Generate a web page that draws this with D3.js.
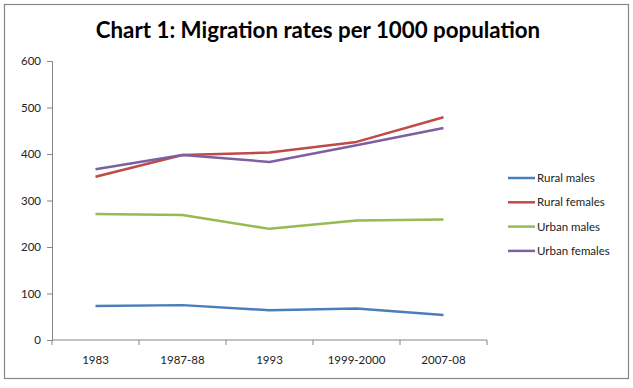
<!DOCTYPE html>
<html>
<head>
<meta charset="utf-8">
<script src="https://cdn.jsdelivr.net/npm/d3@7"></script>
<style>
  body { margin: 0; background: #fff; }
  text { font-family: Lato, "Open Sans", sans-serif; }
</style>
</head>
<body>
<div id="chart"></div>
<script>
// data
var categories = ["1983", "1987-88", "1993", "1999-2000", "2007-08"];
var ruralMales = [73, 75, 64, 68, 54];
var ruralFemales = [351, 398, 403, 426, 479];
var urbanMales = [271, 269, 239, 257, 259];
var urbanFemales = [367, 398, 383, 419, 456];
var seriesNames = ["Rural males", "Rural females", "Urban males", "Urban females"];
var colors = ["#4a7ebb", "#be4b48", "#98b954", "#7d60a0"];
var yTicks = [0, 100, 200, 300, 400, 500, 600];

var series = [ruralMales, ruralFemales, urbanMales, urbanFemales];

var W = 633, H = 388;
var svg = d3.select("#chart").append("svg")
    .attr("width", W)
    .attr("height", H);

// outer frame
svg.append("rect")
    .attr("x", 4.5).attr("y", 4.5)
    .attr("width", 624).attr("height", 374)
    .attr("fill", "#fff")
    .attr("stroke", "#868686")
    .attr("stroke-width", 1.2);

svg.append("text")
    .attr("x", 318).attr("y", 38)
    .attr("text-anchor", "middle")
    .attr("font-size", 22.3)
    .attr("font-weight", "bold")
    .attr("fill", "#000")
    .text("Chart 1: Migration rates per 1000 population");

var plot = {left: 52, right: 487, top: 61, bottom: 340};

var x = d3.scaleBand()
    .domain(categories)
    .range([plot.left, plot.right]);

var y = d3.scaleLinear()
    .domain([0, 600])
    .range([plot.bottom, plot.top]);

// y axis
var yAxis = d3.axisLeft(y).tickValues(yTicks).tickSize(5).tickPadding(6);
var gy = svg.append("g")
    .attr("transform", "translate(" + plot.left + ",0)")
    .call(yAxis);

// x axis, ticks on band edges
var edges = categories.map(function(c) { return x(c); }).concat([plot.right]);
var gx = svg.append("g")
    .attr("transform", "translate(0," + plot.bottom + ")");
gx.append("line")
    .attr("x1", plot.left).attr("x2", plot.right)
    .attr("stroke", "#868686");
gx.selectAll(".tk")
    .data(edges)
    .enter().append("line")
    .attr("x1", function(d) { return d; })
    .attr("x2", function(d) { return d; })
    .attr("y1", 0).attr("y2", 5)
    .attr("stroke", "#868686");
gx.selectAll(".lbl")
    .data(categories)
    .enter().append("text")
    .attr("x", function(d) { return x(d) + x.bandwidth() / 2; })
    .attr("y", 24)
    .attr("text-anchor", "middle")
    .attr("font-size", 11.5)
    .attr("fill", "#222")
    .text(function(d) { return d; });

gy.select(".domain").attr("stroke", "#868686");
gy.selectAll(".tick line").attr("stroke", "#868686");
gy.selectAll(".tick text")
    .attr("font-size", 11.5)
    .attr("font-family", "Lato, 'Open Sans', sans-serif")
    .attr("fill", "#222");

var line = d3.line()
    .x(function(d, i) { return x(categories[i]) + x.bandwidth() / 2; })
    .y(function(d) { return y(d); });

svg.selectAll(".series")
    .data(series)
    .enter().append("path")
    .attr("d", line)
    .attr("fill", "none")
    .attr("stroke", function(d, i) { return colors[i]; })
    .attr("stroke-width", 2.5)
    .attr("stroke-linejoin", "round");

// legend
var leg = svg.selectAll(".leg")
    .data(seriesNames)
    .enter().append("g")
    .attr("transform", function(d, i) { return "translate(508," + (178 + i * 24.3) + ")"; });
leg.append("line")
    .attr("x1", 0).attr("x2", 27)
    .attr("stroke", function(d, i) { return colors[i]; })
    .attr("stroke-width", 2.5);
leg.append("text")
    .attr("x", 29).attr("y", 4)
    .attr("font-size", 11.5)
    .attr("fill", "#222")
    .text(function(d) { return d; });
</script>
</body>
</html>
